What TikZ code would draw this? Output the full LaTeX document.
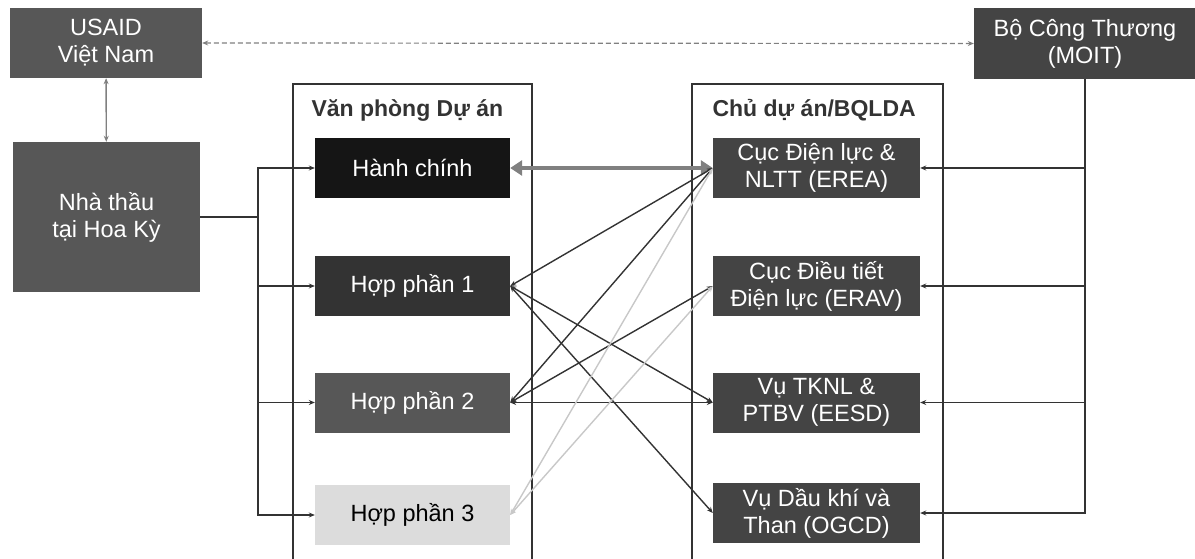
\documentclass[tikz,border=0pt]{standalone}
\usepackage{fontspec}
\setmainfont{Liberation Sans}
\usetikzlibrary{arrows.meta, positioning}

\definecolor{boxdark}{HTML}{444444}
\definecolor{boxmid}{HTML}{575757}
\definecolor{boxblack}{HTML}{151515}
\definecolor{boxlight}{HTML}{DCDCDC}
\definecolor{linedark}{HTML}{333333}
\definecolor{linelight}{HTML}{C8C8C8}

\begin{document}
\begin{tikzpicture}[x=1pt, y=-1pt,
  unit/.style={fill=#1, text=white, inner sep=0pt, align=center, font=\fontsize{23.5}{27}\selectfont},
  leftbox/.style={unit=#1, minimum width=195pt, minimum height=60pt},
  rightbox/.style={unit=boxdark, minimum width=207pt, minimum height=60pt},
  title/.style={anchor=west, text=linedark, font=\bfseries\fontsize{23}{26}\selectfont},
  link/.style={draw=linedark, line width=1.4pt, {Stealth[length=6pt,width=5pt]}-{Stealth[length=6pt,width=5pt]}},
  feed/.style={draw=linedark, line width=1.4pt, -{Stealth[length=6pt,width=5pt]}}]
\useasboundingbox (0,0) rectangle (1195,559);

% top row
\node[unit=boxmid, minimum width=192pt, minimum height=70pt] (usaid) at (106,43) {USAID\\Việt Nam};
\node[unit=boxdark, minimum width=222pt, minimum height=71pt] (moit) at (1085,43.5) {Bộ Công Thương\\(MOIT)};
\node[unit=boxmid, minimum width=187pt, minimum height=150pt] (nt) at (106.5,217) {Nhà thầu\\tại Hoa Kỳ};

\draw[draw=gray, line width=1.2pt, dash pattern=on 5pt off 3pt, {Stealth[length=6pt,width=5pt]}-{Stealth[length=6pt,width=5pt]}] (usaid.east) -- (moit.west);
\draw[draw=gray, line width=1.4pt, {Stealth[length=6pt,width=5pt]}-{Stealth[length=6pt,width=5pt]}] (usaid) -- (nt);

% containers
\draw[line width=1.3pt, linedark] (293,559) |- (532,84) -- (532,559);
\draw[line width=1.3pt, linedark] (692,559) |- (943,84) -- (943,559);
\node[title] (vp) at (308,110) {Văn phòng Dự án};
\node[title] (cda) at (709,110) {Chủ dự án/BQLDA};

% project office
\node[leftbox=boxblack] (hc) at (412.5,168) {Hành chính};
\node[leftbox=linedark] (hp1) at (412.5,286) {Hợp phần 1};
\node[leftbox=boxmid] (hp2) at (412.5,402.5) {Hợp phần 2};
\node[leftbox=boxlight, text=black] (hp3) at (412.5,515) {Hợp phần 3};

% owners
\node[rightbox] (erea) at (816.5,168) {Cục Điện lực \&\\NLTT (EREA)};
\node[rightbox] (erav) at (816.5,286) {Cục Điều tiết\\Điện lực (ERAV)};
\node[rightbox] (eesd) at (816.5,402.5) {Vụ TKNL \&\\PTBV (EESD)};
\node[rightbox] (ogcd) at (816.5,513) {Vụ Dầu khí và\\Than (OGCD)};

% contractor bus
\coordinate (nb) at (258,217);
\draw[linedark, line width=2pt] (nt.east) -- (nb);
\draw[feed] (nb) |- (hc.west);
\draw[feed] (nb) |- (hp3.west);
\draw[feed] (nb |- hp1.west) -- (hp1.west);
\draw[feed] (nb |- hp2.west) -- (hp2.west);

% ministry bus
\draw[feed] (moit.south) |- (erea.east);
\draw[feed] (moit.south) |- (ogcd.east);
\draw[feed] (moit.south |- erav.east) -- (erav.east);
\draw[feed] (moit.south |- eesd.east) -- (eesd.east);

% office to owners
\draw[draw=gray, line width=4pt, {Triangle[length=12pt,width=15pt]}-{Triangle[length=12pt,width=15pt]}] (hc.east) -- (erea.west);
\draw[link] (hp1.east) -- (erea.west);
\draw[link] (hp1.east) -- (eesd.west);
\draw[link] (hp1.east) -- (ogcd.west);
\draw[link] (hp2.east) -- (erea.west);
\draw[link] (hp2.east) -- (erav.west);
\draw[link] (hp2.east) -- (eesd.west);
\draw[link, draw=linelight] (hp3.east) -- (erea.west);
\draw[link, draw=linelight] (hp3.east) -- (erav.west);
\end{tikzpicture}
\end{document}
